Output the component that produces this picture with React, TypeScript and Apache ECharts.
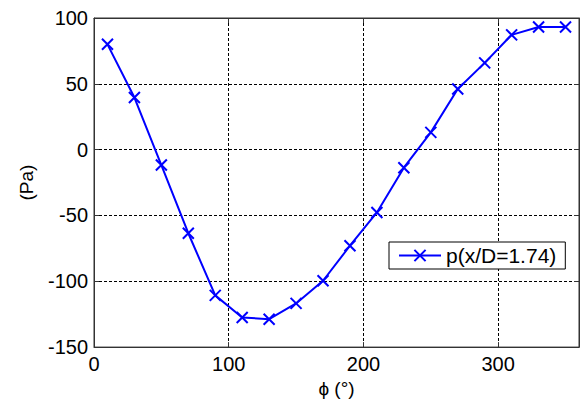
import React, { useEffect, useRef } from "react";
import * as echarts from "echarts";

const phi = [10, 30, 50, 70, 90, 110, 130, 150, 170, 190, 210, 230, 250, 270, 290, 310, 330, 350];
const pressure = [80, 39.6, -11.7, -63.5, -110.7, -127.5, -128.8, -116.8, -99.6, -73, -47.7, -13.7, 13.1, 46.1, 65.9, 87.2, 93.2, 93.2];
const seriesName = "p(x/D=1.74)";
const xName = "ϕ (°)";
const yName = "(Pa)";

const FONT = "'Liberation Sans', Arial, sans-serif";
const AXIS_COLOR = "#333";

export default function App() {
  const ref = useRef<HTMLDivElement>(null);
  useEffect(() => {
    if (!ref.current) return;
    const chart = echarts.init(ref.current, undefined, { renderer: "svg" });
    const data = phi.map((x, i) => [x, pressure[i]]);
    const splitLine = { show: true, lineStyle: { color: "#000", type: [3, 2] as any, width: 1 } };
    chart.setOption({
      animation: false,
      backgroundColor: "#fff",
      textStyle: { fontFamily: FONT },
      grid: { left: 94, top: 18, right: 2, bottom: 49, show: true, borderColor: AXIS_COLOR, borderWidth: 1 },
      legend: {
        left: 389,
        top: 242,
        padding: [3, 9, 3, 9],
        borderColor: "#000",
        borderWidth: 1,
        backgroundColor: "#fff",
        itemWidth: 42,
        itemHeight: 14,
        textStyle: { fontSize: 21, color: "#000", fontFamily: FONT },
        data: [seriesName],
      },
      xAxis: [
        {
          type: "value",
          min: 0,
          max: 360,
          interval: 100,
          name: xName,
          nameLocation: "middle",
          nameGap: 28,
          nameTextStyle: { fontSize: 19, color: "#000", fontFamily: FONT },
          axisLine: { show: true, onZero: false, lineStyle: { color: AXIS_COLOR } },
          axisTick: { show: true, inside: true, length: 5, lineStyle: { color: AXIS_COLOR } },
          axisLabel: {
            fontSize: 20,
            color: "#000",
            margin: 7,
            fontFamily: FONT,
            formatter: (v: number) => (v === 360 ? "" : String(v)),
          },
          splitLine,
        },
        {
          type: "value",
          position: "top",
          min: 0,
          max: 360,
          interval: 100,
          axisLine: { show: true, onZero: false, lineStyle: { color: AXIS_COLOR } },
          axisTick: { show: true, inside: true, length: 5, lineStyle: { color: AXIS_COLOR } },
          axisLabel: { show: false },
          splitLine: { show: false },
        },
      ],
      yAxis: [
        {
          type: "value",
          min: -150,
          max: 100,
          interval: 50,
          name: yName,
          nameLocation: "middle",
          nameGap: 58,
          nameTextStyle: { fontSize: 19, color: "#000", fontFamily: FONT },
          axisLine: { show: true, onZero: false, lineStyle: { color: AXIS_COLOR } },
          axisTick: { show: true, inside: true, length: 5, lineStyle: { color: AXIS_COLOR } },
          axisLabel: { fontSize: 20, color: "#000", margin: 6, fontFamily: FONT },
          splitLine,
        },
        {
          type: "value",
          position: "right",
          min: -150,
          max: 100,
          interval: 50,
          axisLine: { show: true, onZero: false, lineStyle: { color: AXIS_COLOR } },
          axisTick: { show: true, inside: true, length: 5, lineStyle: { color: AXIS_COLOR } },
          axisLabel: { show: false },
          splitLine: { show: false },
        },
      ],
      series: [
        {
          name: seriesName,
          type: "line",
          data,
          xAxisIndex: 0,
          yAxisIndex: 0,
          symbol: "path://M0,0L10,10M10,0L0,10",
          symbolSize: 11,
          showAllSymbol: true,
          lineStyle: { color: "#0000ff", width: 2 },
          itemStyle: { color: "#0000ff", borderColor: "#0000ff", borderWidth: 2 },
        },
      ],
    });
    return () => chart.dispose();
  }, []);
  return (
    <div
      ref={ref}
      style={{ position: "fixed", left: 0, top: 0, width: 582, height: 403 }}
    />
  );
}
